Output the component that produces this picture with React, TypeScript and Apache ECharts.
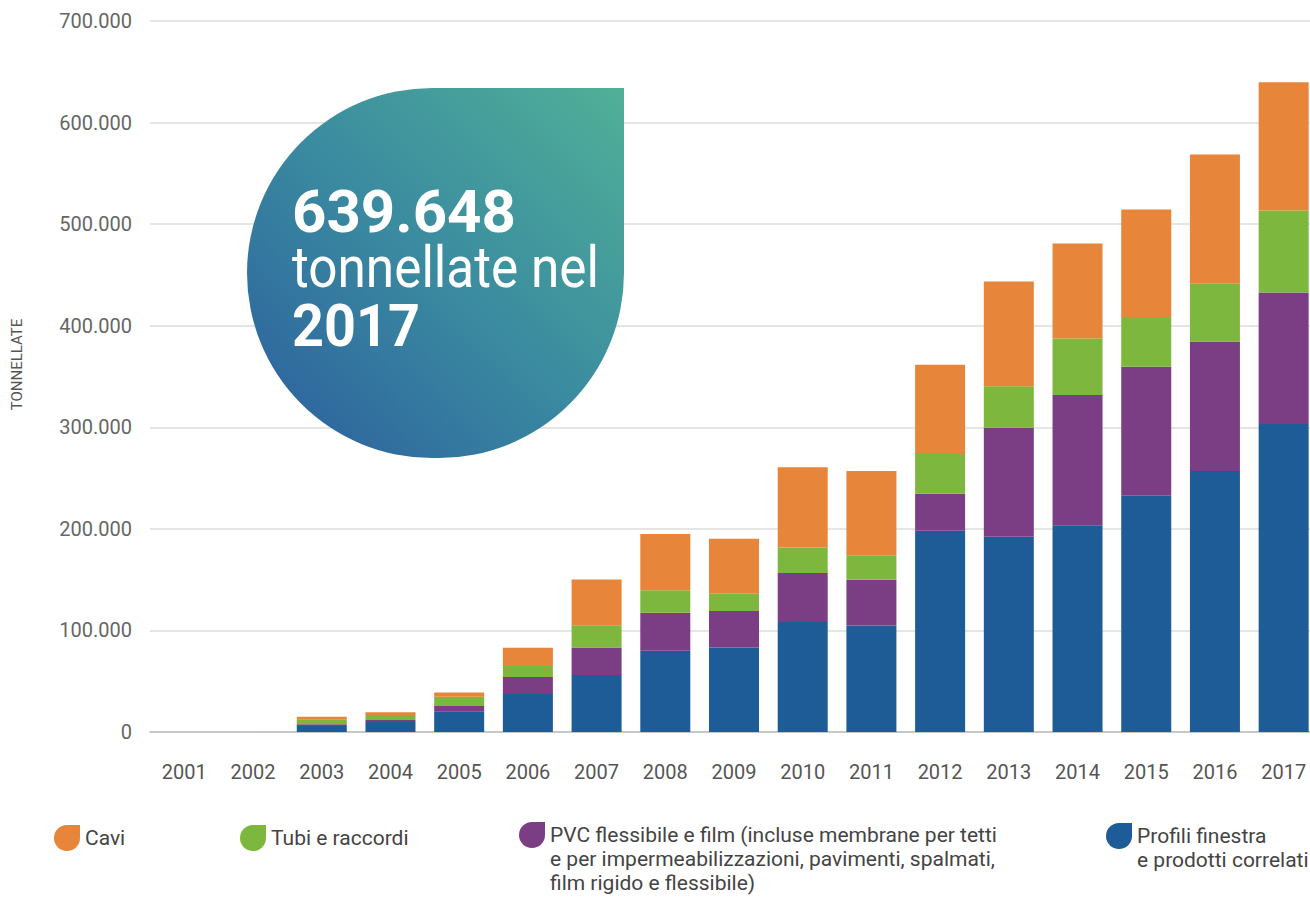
import React, { useEffect, useRef } from "react";
import * as echarts from "echarts";

const years = ["2001","2002","2003","2004","2005","2006","2007","2008","2009","2010","2011","2012","2013","2014","2015","2016","2017"];

const profiliFinestra = [0, 0, 5900, 9800, 20500, 37300, 56100, 80000, 83300, 108400, 104800, 198100, 192300, 203500, 232500, 257000, 303200];
const pvcFlessibile = [0, 0, 1700, 2000, 5200, 16900, 27100, 37300, 35900, 48100, 45200, 36400, 107300, 128300, 127100, 127500, 129500];
const tubiRaccordi = [0, 0, 4900, 4900, 9000, 10800, 21800, 22200, 16800, 25100, 24100, 39300, 40700, 55500, 49100, 56700, 80800];
const cavi = [0, 0, 2600, 2700, 4200, 17900, 45200, 55500, 54200, 79000, 82900, 87700, 103200, 93700, 105700, 127300, 126148];

const yTicks = { min: 0, max: 700000, interval: 100000 };

const seriesNames = {
  cavi: "Cavi",
  tubi: "Tubi e raccordi",
  pvc: "PVC flessibile e film (incluse membrane per tetti e per impermeabilizzazioni, pavimenti, spalmati, film rigido e flessibile)",
  profili: "Profili finestra e prodotti correlati",
};

const legendLines: Record<string, string[]> = {
  [seriesNames.cavi]: ["Cavi"],
  [seriesNames.tubi]: ["Tubi e raccordi"],
  [seriesNames.pvc]: [
    "PVC flessibile e film (incluse membrane per tetti",
    "e per impermeabilizzazioni, pavimenti, spalmati,",
    "film rigido e flessibile)",
  ],
  [seriesNames.profili]: ["Profili finestra", "e prodotti correlati"],
};

const highlight = { value: "639.648", line2: "tonnellate nel", year: "2017" };

const colors = {
  cavi: "#E7853A",
  tubi: "#7DB73D",
  pvc: "#7B3E85",
  profili: "#1D5C97",
};

const FONT = "Roboto, 'Noto Sans', sans-serif";
const ICON = "path://M13,0 L26,0 L26,13 A13,13 0 1 1 13,0 Z";
const LH = 24;

function fmt(v: number): string {
  if (v === 0) return "0";
  return String(v).replace(/\B(?=(\d{3})+(?!\d))/g, ".");
}

// iconTop: where the icon's top edge should be
function makeLegend(name: string, left: number, iconTop: number) {
  const lines = legendLines[name];
  const n = lines.length;
  // prepend empty lines so that the first real line sits level with the icon
  const text = new Array(n - 1).fill("").concat(lines).join("\n");
  const total = 2 * n - 1;
  const c = iconTop + 13;
  const top = n === 1 ? iconTop : c - (total * LH) / 2;
  return {
    data: [name],
    left,
    top,
    padding: 0,
    icon: ICON,
    itemWidth: 26,
    itemHeight: 26,
    selectedMode: false,
    formatter: () => text,
    textStyle: {
      fontFamily: FONT,
      fontSize: 21,
      color: "#444",
      lineHeight: LH,
    },
  };
}

export default function App() {
  const ref = useRef<HTMLDivElement>(null);
  useEffect(() => {
    document.body.style.margin = "0";
    if (!ref.current) return;
    const chart = echarts.init(ref.current, null, { renderer: "svg" });
    const barCommon = { type: "bar", stack: "total", barWidth: 50 };
    chart.setOption({
      animation: false,
      backgroundColor: "#ffffff",
      grid: { left: 150, top: 21, bottom: 168, right: 0 },
      xAxis: {
        type: "category",
        data: years,
        axisTick: { show: false },
        axisLine: { lineStyle: { color: "#bcbcbc", width: 1.5 } },
        axisLabel: { margin: 30, fontSize: 20, color: "#555", fontFamily: FONT },
      },
      yAxis: {
        type: "value",
        min: yTicks.min,
        max: yTicks.max,
        interval: yTicks.interval,
        name: "TONNELLATE",
        nameLocation: "middle",
        nameGap: 126,
        nameTextStyle: { fontSize: 15, color: "#555", fontFamily: FONT, padding: [0, 0, 0, 24] },
        axisLine: { show: false },
        axisTick: { show: false },
        axisLabel: { margin: 18, fontSize: 20, color: "#666", fontFamily: FONT, formatter: (v: number) => fmt(v) },
        splitLine: { lineStyle: { color: "#dcdcdc", width: 1.5 } },
      },
      legend: [
        makeLegend(seriesNames.cavi, 54, 825),
        makeLegend(seriesNames.tubi, 240, 825),
        makeLegend(seriesNames.pvc, 519, 822),
        makeLegend(seriesNames.profili, 1106, 823),
      ],
      series: [
        { ...barCommon, name: seriesNames.profili, data: profiliFinestra, itemStyle: { color: colors.profili } },
        { ...barCommon, name: seriesNames.pvc, data: pvcFlessibile, itemStyle: { color: colors.pvc } },
        { ...barCommon, name: seriesNames.tubi, data: tubiRaccordi, itemStyle: { color: colors.tubi } },
        { ...barCommon, name: seriesNames.cavi, data: cavi, itemStyle: { color: colors.cavi } },
      ],
      graphic: [
        {
          type: "rect",
          z: 10,
          shape: { x: 247, y: 88, width: 377, height: 370, r: [185, 0, 185, 185] },
          style: {
            fill: {
              type: "linear",
              x: 1, y: 0, x2: 0, y2: 1,
              colorStops: [
                { offset: 0, color: "#50B097" },
                { offset: 0.5, color: "#3A8AA0" },
                { offset: 1, color: "#2B5C9E" },
              ],
            },
          },
        },
        {
          type: "text", z: 11, x: 292, y: 211,
          style: { text: highlight.value, fill: "#fff", fontSize: 60, fontWeight: "bold", fontFamily: FONT, verticalAlign: "middle", align: "left" },
        },
        {
          type: "text", z: 11, x: 292, y: 268, scaleX: 0.9,
          style: { text: highlight.line2, fill: "#fff", fontSize: 57, fontWeight: "normal", fontFamily: FONT, verticalAlign: "middle", align: "left" },
        },
        {
          type: "text", z: 11, x: 292, y: 325, scaleX: 0.93,
          style: { text: highlight.year, fill: "#fff", fontSize: 60, fontWeight: "bold", fontFamily: FONT, verticalAlign: "middle", align: "left" },
        },
      ],
    });
    return () => chart.dispose();
  }, []);
  return (
    <div style={{ width: 1310, height: 900, overflow: "hidden" }}>
      <div ref={ref} style={{ width: 1318, height: 900 }} />
    </div>
  );
}
